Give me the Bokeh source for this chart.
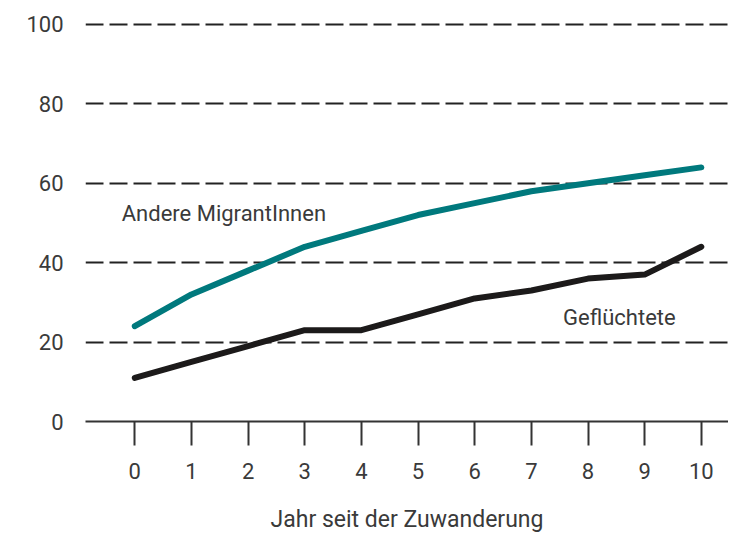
from bokeh.plotting import figure
from bokeh.models import FixedTicker, Label, Range1d
from bokeh.embed import file_html
from bokeh.resources import INLINE

years = [0, 1, 2, 3, 4, 5, 6, 7, 8, 9, 10]
andere = [24, 32, 38, 44, 48, 52, 55, 58, 60, 62, 64]
gefluechtete = [11, 15, 19, 23, 23, 27, 31, 33, 36, 37, 44]
y_ticks = [0, 20, 40, 60, 80, 100]
x_label = "Jahr seit der Zuwanderung"
label_andere = "Andere MigrantInnen"
label_gefl = "Geflüchtete"

FONT = "Roboto"
TXT = "#3a3a3a"

p = figure(width=728, height=535, output_backend="svg", toolbar_location=None,
           x_range=Range1d(-0.87, 10.48), y_range=Range1d(0, 101))
p.min_border_left = 85
p.min_border_right = 0
p.min_border_top = 20
p.min_border_bottom = 114
p.outline_line_color = None
p.background_fill_color = "white"
p.border_fill_color = "white"

p.xgrid.grid_line_color = None
p.ygrid.ticker = FixedTicker(ticks=[t for t in y_ticks if t > 0])
p.ygrid.grid_line_color = "#222222"
p.ygrid.grid_line_width = 2
p.ygrid.grid_line_dash = "18 6"

p.line(years, andere, line_color="#00797d", line_width=6, line_cap="round", line_join="round")
p.line(years, gefluechtete, line_color="#1c1a1a", line_width=6, line_cap="round", line_join="round")

xa = p.xaxis[0]
xa.ticker = FixedTicker(ticks=years)
xa.axis_line_color = "#333333"
xa.axis_line_width = 2
xa.major_tick_line_color = "#333333"
xa.major_tick_line_width = 2
xa.major_tick_in = 0
xa.major_tick_out = 24
xa.minor_tick_line_color = None
xa.major_label_standoff = 17
xa.major_label_text_font = FONT
xa.major_label_text_font_size = "22px"
xa.major_label_text_color = TXT
xa.axis_label = x_label
xa.axis_label_text_font = FONT
xa.axis_label_text_font_size = "23px"
xa.axis_label_text_font_style = "normal"
xa.axis_label_text_color = TXT
xa.axis_label_standoff = 24

ya = p.yaxis[0]
ya.ticker = FixedTicker(ticks=y_ticks)
ya.axis_line_color = None
ya.major_tick_line_color = None
ya.minor_tick_line_color = None
ya.major_tick_in = 0
ya.major_tick_out = 0
ya.major_label_standoff = 22
ya.major_label_text_font = FONT
ya.major_label_text_font_size = "22px"
ya.major_label_text_color = TXT

p.add_layout(Label(x=-0.23, y=52.4, text=label_andere, text_font=FONT, text_font_size="22px",
                   text_color=TXT, text_baseline="middle", text_align="left"))
p.add_layout(Label(x=7.56, y=26.2, text=label_gefl, text_font=FONT, text_font_size="22px",
                   text_color=TXT, text_baseline="middle", text_align="left"))

open("out.html", "w").write(file_html(p, INLINE))
